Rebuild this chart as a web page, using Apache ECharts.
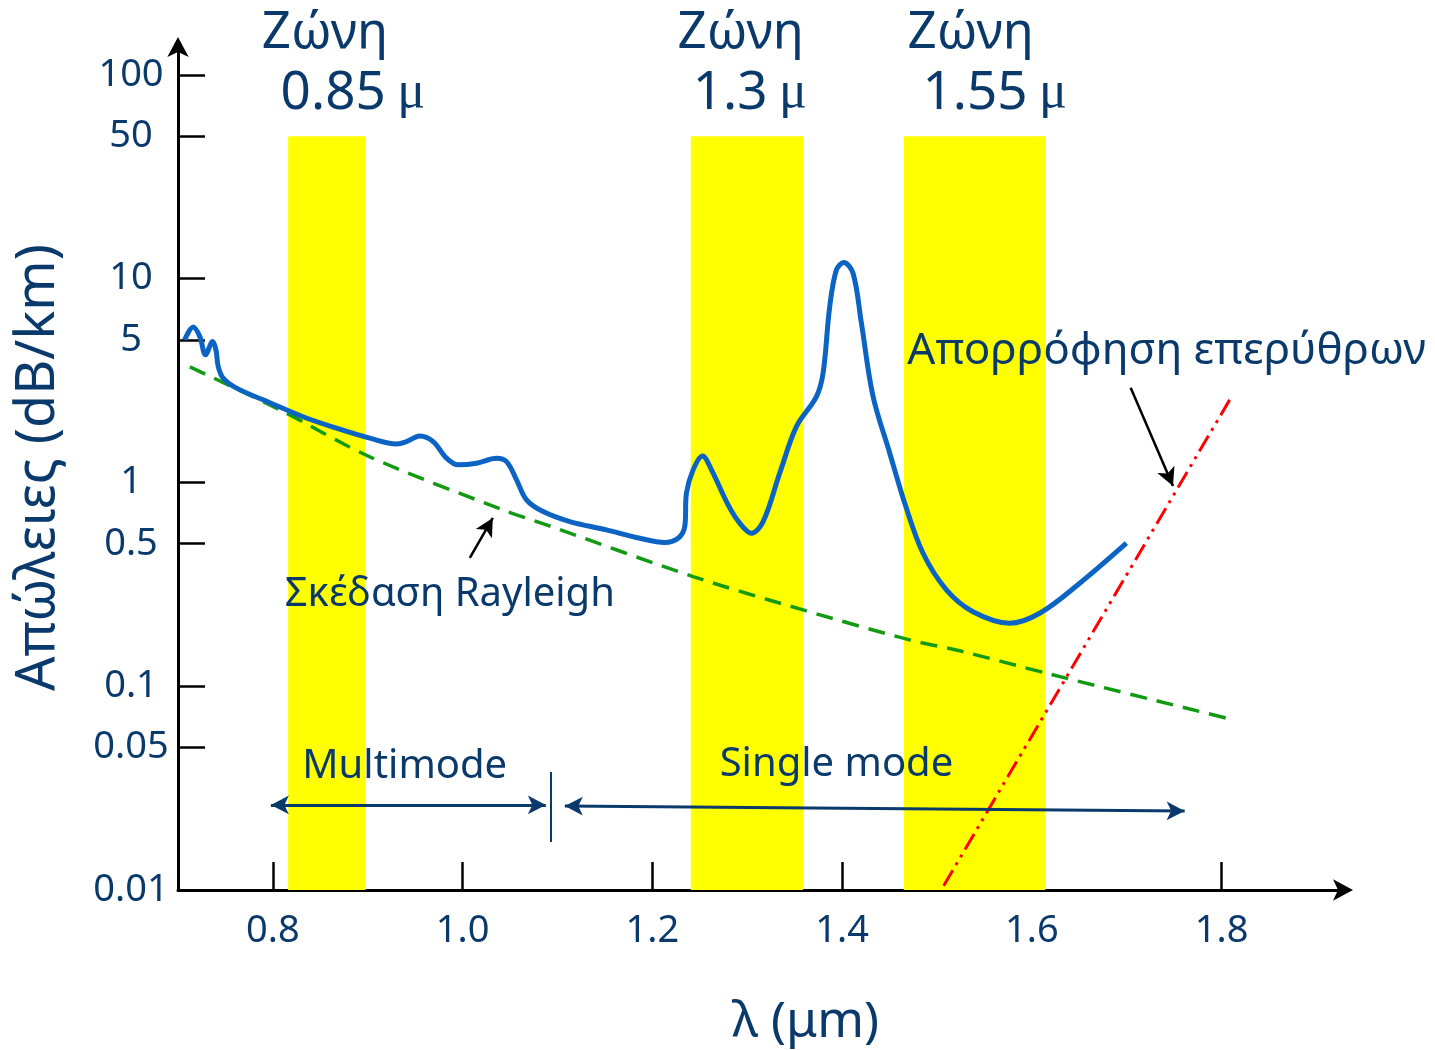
<!DOCTYPE html>
<html>
<head>
<meta charset="utf-8">
<title>Απώλειες οπτικής ίνας</title>
<script src="https://cdn.jsdelivr.net/npm/echarts@6/dist/echarts.min.js"></script>
<style>
    html, body { margin: 0; padding: 0; background: #fff; }
    #chart { width: 1435px; height: 1050px; }
</style>
</head>
<body>
<div id="chart"></div>
<script>
// values: wavelength in um, loss in dB/km

// measured loss curve
const lossX = [0.707, 0.716, 0.723, 0.729, 0.7365, 0.740, 0.7424, 0.7476, 0.7617, 0.7968,
    0.8316, 0.8671, 0.9022, 0.9303, 0.9409, 0.9549, 0.9689, 0.983, 0.9953, 1.0147,
    1.0357, 1.0463, 1.0568, 1.0673, 1.0848, 1.113, 1.1516, 1.1867, 1.2131, 1.2271,
    1.2341, 1.2359, 1.2429, 1.2528, 1.2623, 1.2798, 1.2921, 1.3044, 1.3167, 1.3342,
    1.3518, 1.3729, 1.3799, 1.3869, 1.394, 1.4017, 1.4115, 1.4203, 1.4326, 1.4502,
    1.466, 1.4853, 1.5099, 1.5379, 1.5766, 1.6082, 1.6504, 1.6996];
const lossY = [5.01, 5.78, 5.19, 4.23, 4.91, 4.47, 3.70, 3.25, 2.90, 2.46,
    2.10, 1.845, 1.648, 1.545, 1.586, 1.691, 1.586, 1.315, 1.219, 1.242,
    1.315, 1.265, 1.029, 0.821, 0.719, 0.642, 0.585, 0.532, 0.507, 0.532,
    0.607, 0.885, 1.152, 1.349, 1.152, 0.776, 0.631, 0.563, 0.642, 1.110,
    1.879, 2.637, 3.436, 7.29, 11.04, 11.99, 10.63, 6.04, 2.637, 1.391,
    0.790, 0.449, 0.297, 0.232, 0.2037, 0.228, 0.320, 0.503];

// Rayleigh scattering
const rayleighX = [0.7125, 0.8074, 0.9022, 1.0424, 1.0884, 1.2429, 1.3588, 1.4712, 1.5274, 1.6153, 1.8084];
const rayleighY = [3.69, 2.27, 1.334, 0.733, 0.619, 0.345, 0.2367, 0.1687, 0.1478, 0.1158, 0.0691];

// infrared absorption
const irX = [1.507, 1.8084];
const irY = [0.0105, 2.54];

// transmission windows
const zoneLabels = ['0.85', '1.3', '1.55'];
const zoneFrom = [0.8161, 1.2405, 1.4649];
const zoneTo = [0.8977, 1.3588, 1.6142];
const zoneTop = 50;

const yTicks = [0.01, 0.05, 0.1, 0.5, 1, 5, 10, 50, 100];
const xTicks = [0.8, 1.0, 1.2, 1.4, 1.6, 1.8];

const navy = '#0a3a6b';
const font = 'Noto Sans';

let myChart = echarts.init(document.getElementById('chart'));

function pairs(xs, ys) {
    return xs.map((x, i) => [x, ys[i]]);
}

// text notes, [x, y] in data units
const zoneTitlePos = [[0.8548, 100], [1.2931, 100], [1.5355, 100]];
const zoneValuePos = [[0.8843, 80.7], [1.3026, 80.7], [1.5608, 80.7]];

let notes = [];
zoneTitlePos.forEach((p) => {
    notes.push({
        name: 'Ζώνη', coord: p,
        label: { fontSize: 51, offset: [0, -41] }
    });
});
zoneValuePos.forEach((p, i) => {
    notes.push({
        name: zoneLabels[i], coord: p,
        label: {
            formatter: '{n|' + zoneLabels[i] + '} {m|μ}'
        }
    });
});
notes.push({ name: 'Σκέδαση Rayleigh', coord: [0.9865, 0.2805], label: { fontSize: 40 } });
notes.push({ name: 'Απορρόφηση επερύθρων', coord: [1.742, 4.37], label: { fontSize: 44 } });
notes.push({ name: 'Multimode', coord: [0.939, 0.0402], label: { fontSize: 40 } });
notes.push({ name: 'Single mode', coord: [1.394, 0.0411], label: { fontSize: 40 } });

// arrows and the multimode / single mode divider
const blackArrow = { color: '#000', width: 2.5, type: 'solid' };
const navyArrow = { color: navy, width: 3, type: 'solid' };
let arrows = [
    [{ coord: [1.0076, 0.426], symbol: 'none', lineStyle: blackArrow }, { coord: [1.0318, 0.669], symbol: 'arrow' }],
    [{ coord: [1.7041, 2.91], symbol: 'none', lineStyle: blackArrow }, { coord: [1.7487, 0.961], symbol: 'arrow' }],
    [{ coord: [0.7979, 0.02614], symbol: 'arrow', lineStyle: navyArrow }, { coord: [1.0877, 0.02614], symbol: 'arrow' }],
    [{ coord: [1.1077, 0.02585], symbol: 'arrow', lineStyle: navyArrow }, { coord: [1.761, 0.02442], symbol: 'arrow' }],
    [{ coord: [1.0929, 0.0379], symbol: 'none', lineStyle: { color: navy, width: 2, type: 'solid' } }, { coord: [1.0929, 0.0172], symbol: 'none' }]
];

let bands = zoneFrom.map((f, i) => [
    { xAxis: f, yAxis: 0.01 },
    { xAxis: zoneTo[i], yAxis: zoneTop }
]);

let option = {
    animation: false,
    backgroundColor: '#fff',
    textStyle: { fontFamily: font },
    grid: {
        left: 178,
        right: 90,
        top: 45,
        bottom: 160,
        containLabel: false,
        outerBoundsMode: 'none'
    },
    xAxis: {
        type: 'value',
        min: 0.7,
        max: 1.93,
        name: 'λ (μm)',
        nameLocation: 'middle',
        nameGap: 108,
        nameTextStyle: {
            color: navy,
            fontSize: 50,
            fontFamily: font,
            padding: [0, 0, 0, 88]
        },
        axisLine: {
            lineStyle: { color: '#000', width: 3 },
            symbol: ['none', 'arrow'],
            symbolSize: [16, 20],
            symbolOffset: [0, 8]
        },
        axisTick: {
            inside: true,
            length: 28,
            lineStyle: { color: '#000', width: 2.5 },
            customValues: xTicks
        },
        axisLabel: {
            color: navy,
            fontSize: 38,
            fontFamily: font,
            margin: 22,
            customValues: xTicks,
            formatter: (v) => v.toFixed(1)
        },
        splitLine: { show: false }
    },
    yAxis: {
        type: 'log',
        logBase: 10,
        min: 0.01,
        max: 140,
        name: 'Απώλειες (dB/km)',
        nameLocation: 'middle',
        nameGap: 112,
        nameTextStyle: {
            color: navy,
            fontSize: 54,
            fontFamily: font
        },
        axisLine: {
            lineStyle: { color: '#000', width: 3 },
            symbol: ['none', 'arrow'],
            symbolSize: [16, 20],
            symbolOffset: [0, 8]
        },
        axisTick: {
            inside: true,
            length: 27,
            lineStyle: { color: '#000', width: 2.5 },
            customValues: yTicks
        },
        axisLabel: {
            color: navy,
            fontSize: 38,
            fontFamily: font,
            align: 'center',
            margin: 47,
            customValues: yTicks,
            formatter: (v) => String(v)
        },
        splitLine: { show: false }
    },
    series: [
        {
            name: 'Σκέδαση Rayleigh',
            type: 'line',
            data: pairs(rayleighX, rayleighY),
            smooth: 0.3,
            showSymbol: false,
            silent: true,
            lineStyle: { color: '#129b12', width: 3.5, type: [17, 10] },
            markArea: {
                silent: true,
                itemStyle: { color: '#ffff00' },
                label: { show: false },
                data: bands
            }
        },
        {
            name: 'Απώλειες',
            type: 'line',
            data: pairs(lossX, lossY),
            smooth: 0.35,
            showSymbol: false,
            silent: true,
            lineStyle: { color: '#0b63c4', width: 5 }
        },
        {
            name: 'Απορρόφηση επερύθρων',
            type: 'line',
            data: pairs(irX, irY),
            showSymbol: false,
            silent: true,
            lineStyle: { color: '#ff0000', width: 3, type: [18, 6, 3, 6, 3, 6] },
            markLine: {
                silent: true,
                symbolSize: [14, 18],
                label: { show: false },
                emphasis: { disabled: true },
                data: arrows
            },
            markPoint: {
                silent: true,
                symbol: 'circle',
                symbolSize: 0,
                label: {
                    show: true,
                    position: 'inside',
                    formatter: '{b}',
                    color: navy,
                    fontFamily: font,
                    fontSize: 44,
                    rich: {
                        n: { color: navy, fontFamily: font, fontSize: 53 },
                        m: { color: navy, fontFamily: 'Liberation Serif', fontSize: 52 }
                    }
                },
                data: notes
            }
        }
    ]
};

myChart.setOption(option);
</script>
</body>
</html>
